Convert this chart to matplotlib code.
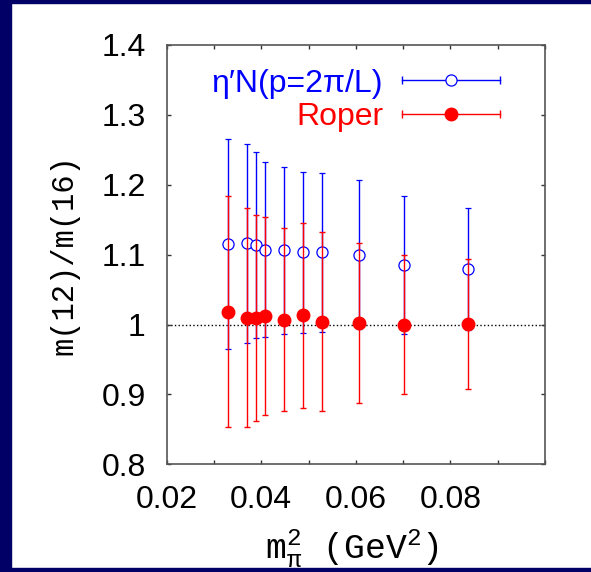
import numpy as np
import matplotlib
matplotlib.use('Agg')
import matplotlib.pyplot as plt
from matplotlib.lines import Line2D
from matplotlib.patches import Rectangle
from matplotlib.legend_handler import HandlerLine2D
from matplotlib.ticker import MultipleLocator, FuncFormatter

plt.rcParams['font.family'] = 'Liberation Sans'
plt.rcParams['mathtext.fontset'] = 'custom'
plt.rcParams['mathtext.rm'] = 'Liberation Mono'
plt.rcParams['mathtext.it'] = 'Liberation Mono'
plt.rcParams['mathtext.tt'] = 'Liberation Mono'
plt.rcParams['mathtext.sf'] = 'Liberation Sans'

# data
mpi2 = [0.0329, 0.0369, 0.0389, 0.0408, 0.0448, 0.0489, 0.0528, 0.0606, 0.0703, 0.0838]
eta_n = [1.115, 1.116, 1.114, 1.107, 1.106, 1.103, 1.103, 1.100, 1.085, 1.079]
eta_n_err = [0.150, 0.142, 0.133, 0.125, 0.119, 0.115, 0.113, 0.106, 0.099, 0.087]
roper = [1.018, 1.010, 1.009, 1.012, 1.007, 1.013, 1.004, 1.002, 1.000, 1.001]
roper_err = [0.165, 0.156, 0.147, 0.141, 0.131, 0.132, 0.128, 0.114, 0.099, 0.093]

blue = '#0000ff'
red = '#ff0000'
navy = '#000066'

fig = plt.figure(figsize=(5.91, 5.72), dpi=100)
ax = fig.add_axes([0.282, 0.188, 0.640, 0.734])

ax.axhline(1.0, color='black', ls=':', lw=1, zorder=1)

ax.errorbar(mpi2, eta_n, yerr=eta_n_err, fmt='o', color=blue, mfc='white',
            mec=blue, mew=0.9, ms=8, elinewidth=1, capsize=2.5, capthick=1, zorder=2)
ax.errorbar(mpi2, roper, yerr=roper_err, fmt='o', color=red, mfc=red,
            mec=red, ms=9, elinewidth=1, capsize=2.5, capthick=1, zorder=3)

ax.set_xlim(0.02, 0.10)
ax.set_ylim(0.8, 1.4)
ax.xaxis.set_major_locator(MultipleLocator(0.01))
ax.yaxis.set_major_locator(MultipleLocator(0.1))

def xfmt(v, pos):
    k = int(round(v * 100))
    if k % 2 == 0 and 2 <= k <= 8:
        return '%.2f' % v
    return ''

def yfmt(v, pos):
    s = '%.1f' % v
    return '1' if s == '1.0' else s

ax.xaxis.set_major_formatter(FuncFormatter(xfmt))
ax.yaxis.set_major_formatter(FuncFormatter(yfmt))
ax.tick_params(direction='in', length=3, width=1, color='#333333', top=True, right=True,
               labelsize=23, pad=15)
for sp in ax.spines.values():
    sp.set_color('#555555')
    sp.set_linewidth(1.2)

ax.set_ylabel('m(12)/m(16)', family='Liberation Mono', fontsize=22, labelpad=16)
ax.set_xlabel(r'm$_{\mathrm{\pi}}^{\mathrm{2}}$ (GeV$^{\mathrm{2}}$)',
              family='Liberation Mono', fontsize=25)
ax.xaxis.set_label_coords(0.49, -0.225, transform=ax.transAxes)
ax.xaxis.label.set_va('baseline')

# gnuplot style key
cap_b = Line2D([], [], color=blue, lw=1, marker='|', ms=6)
dot_b = Line2D([], [], ls='none', marker='o', mfc='white', mec=blue, mew=0.9, ms=8)
cap_r = Line2D([], [], color=red, lw=1, marker='|', ms=6)
dot_r = Line2D([], [], ls='none', marker='o', mfc=red, mec=red, ms=9)
hmap = {cap_b: HandlerLine2D(numpoints=2, marker_pad=0),
        cap_r: HandlerLine2D(numpoints=2, marker_pad=0),
        dot_b: HandlerLine2D(numpoints=1), dot_r: HandlerLine2D(numpoints=1)}
leg = ax.legend([(cap_b, dot_b), (cap_r, dot_r)],
                ['\u03b7\u2032N(p=2\u03c0/L)', 'Roper'],
                handler_map=hmap, loc='upper right', bbox_to_anchor=(0.881, 0.943),
                frameon=False, markerfirst=False, alignment='right',
                fontsize=23, handlelength=3.05, handletextpad=0.6, labelspacing=0.1,
                borderaxespad=0, borderpad=0)
leg.get_texts()[0].set_color(blue)
leg.get_texts()[1].set_color(red)

# slide frame
fig.add_artist(Rectangle((0, 0), 11 / 591, 1, transform=fig.transFigure,
                         color=navy, zorder=10))
fig.add_artist(Rectangle((0, 1 - 3 / 572), 1, 3 / 572, transform=fig.transFigure,
                         color=navy, zorder=10))
fig.add_artist(Rectangle((0, 0), 1, 4 / 572, transform=fig.transFigure,
                         color=navy, zorder=10))

fig.savefig('out.png', dpi=100)
